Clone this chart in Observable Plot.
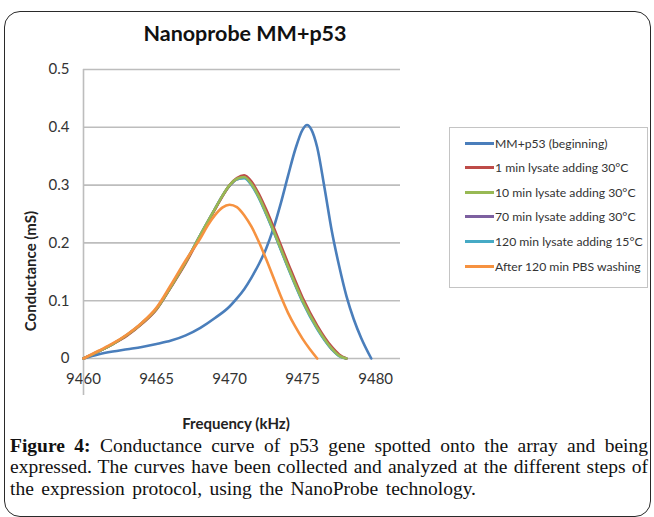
<!DOCTYPE html>
<html>
<head>
<meta charset="utf-8">
<script src="https://cdn.jsdelivr.net/npm/d3@7"></script>
<script src="https://cdn.jsdelivr.net/npm/@observablehq/plot@0.6"></script>
<style>
  html, body { margin: 0; padding: 0; background: #fff; }
  #wrap { position: relative; width: 654px; height: 517px; overflow: hidden; font-family: Lato, "Open Sans", sans-serif; }
  #frame { position: absolute; left: 4px; top: 11px; width: 647px; height: 506px; box-sizing: border-box;
           border: 1.5px solid #2a2a2a; border-radius: 16px; }
  #title { position: absolute; left: 45px; width: 400px; top: 21px; line-height: 24px; text-align: center;
           font-weight: 700; font-size: 21.5px; color: #111; }
  #chart { position: absolute; left: 0; top: 55px; }
  #xlabel { position: absolute; left: 136px; width: 200px; top: 414px; line-height: 18px; text-align: center;
            font-weight: 700; font-size: 15px; color: #222; }
  #ylabel { position: absolute; left: 30px; top: 271px; transform: translate(-50%, -50%) rotate(-90deg);
            white-space: nowrap; font-weight: 700; font-size: 15px; line-height: 18px; color: #222; }
  #legend { position: absolute; left: 449px; top: 127px; width: 199px; height: 161px; box-sizing: border-box;
            border: 1px solid #c4c4c4; background: #fff; }
  .lrow { position: absolute; left: 15px; height: 16px; display: flex; align-items: center; white-space: nowrap;
          font-size: 12.2px; color: #333; }
  .lsw { width: 29px; height: 3px; margin-right: 1px; }
  #caption { position: absolute; left: 10px; width: 638px; top: 435px; font-family: "Liberation Serif", "DejaVu Serif", serif;
             font-size: 19.5px; line-height: 21.4px; color: #111; }
  #caption div { white-space: nowrap; }
  #caption span.m { display: inline-block; white-space: nowrap; }
</style>
</head>
<body>
<div id="wrap">
  <div id="frame"></div>
  <div id="title">Nanoprobe MM+p53</div>
  <div id="chart"></div>
  <div id="ylabel">Conductance (mS)</div>
  <div id="xlabel">Frequency (kHz)</div>
  <div id="legend"></div>
  <div id="caption"></div>
</div>
<script>
// ---- data ----
const seriesNames = [
  "MM+p53 (beginning)",
  "1 min lysate adding 30°C",
  "10 min lysate adding 30°C",
  "70 min lysate adding 30°C",
  "120 min lysate adding 15°C",
  "After 120 min PBS washing"
];
const seriesColors = ["#4a7ebb", "#be4b48", "#98b954", "#7d60a0", "#46aac5", "#f69240"];

const freqBlue = [9460, 9461, 9462, 9463, 9464, 9465, 9466, 9467, 9468, 9469, 9470, 9470.5, 9471, 9471.5, 9472,
  9472.5, 9473, 9473.5, 9474, 9474.5, 9475, 9475.3, 9475.6, 9476, 9476.5, 9477, 9477.5, 9478, 9478.5, 9479, 9479.7];
const blueValues = [0, 0.007, 0.012, 0.016, 0.020, 0.025, 0.031, 0.040, 0.053, 0.070, 0.090, 0.104, 0.120, 0.140, 0.163,
  0.190, 0.225, 0.268, 0.316, 0.362, 0.396, 0.404, 0.396, 0.365, 0.295, 0.220, 0.160, 0.108, 0.068, 0.036, 0];

const freqCluster = [9460, 9461, 9462, 9463, 9464, 9465, 9466, 9467, 9468, 9469, 9469.5, 9470, 9470.5, 9471, 9471.5,
  9472, 9472.5, 9473, 9474, 9475, 9476, 9477, 9477.5, 9478];
const redValues = [0, 0.012, 0.025, 0.040, 0.060, 0.085, 0.124, 0.165, 0.212, 0.258, 0.280, 0.300, 0.312, 0.317, 0.306,
  0.285, 0.258, 0.228, 0.165, 0.105, 0.057, 0.020, 0.007, 0];
const greenValues = [0, 0.012, 0.025, 0.041, 0.061, 0.086, 0.125, 0.167, 0.214, 0.259, 0.281, 0.300, 0.311, 0.314, 0.302,
  0.280, 0.252, 0.222, 0.159, 0.100, 0.053, 0.017, 0.005, 0];
const purpleValues = [0, 0.012, 0.025, 0.041, 0.061, 0.086, 0.125, 0.167, 0.214, 0.259, 0.281, 0.299, 0.310, 0.313, 0.301,
  0.279, 0.251, 0.221, 0.158, 0.099, 0.052, 0.016, 0.005, 0];
const tealValues = [0, 0.012, 0.025, 0.041, 0.061, 0.086, 0.125, 0.167, 0.214, 0.259, 0.281, 0.299, 0.310, 0.312, 0.300,
  0.278, 0.250, 0.220, 0.157, 0.098, 0.051, 0.016, 0.004, 0];

const freqPbs = [9460, 9461, 9462, 9463, 9464, 9465, 9466, 9467, 9468, 9468.5, 9469, 9469.5, 9470, 9470.5, 9471, 9471.5,
  9472, 9472.5, 9473, 9473.5, 9474, 9474.5, 9475, 9475.5, 9476];
const pbsValues = [0, 0.013, 0.026, 0.042, 0.062, 0.088, 0.128, 0.170, 0.208, 0.230, 0.248, 0.261, 0.266, 0.262, 0.248,
  0.228, 0.202, 0.172, 0.140, 0.108, 0.079, 0.055, 0.034, 0.016, 0];

const xTicks = [9460, 9465, 9470, 9475, 9480];
const yTicks = [0, 0.1, 0.2, 0.3, 0.4, 0.5];
const yGrid = [0.1, 0.2, 0.3, 0.4, 0.5];

// ---- build table (drawing order: blue, purple, teal, red, green, orange) ----
const seriesData = [
  [freqBlue, blueValues], [freqCluster, redValues], [freqCluster, greenValues],
  [freqCluster, purpleValues], [freqCluster, tealValues], [freqPbs, pbsValues]
];
const drawOrder = [0, 3, 4, 1, 2, 5];
const rows = [];
drawOrder.forEach(i => {
  const [fs, vs] = seriesData[i];
  fs.forEach((f, j) => rows.push({series: seriesNames[i], f, g: vs[j]}));
});

const chart = Plot.plot({
  width: 420,
  height: 355,
  marginLeft: 83,
  marginRight: 20,
  marginTop: 14,
  marginBottom: 52,
  style: {fontFamily: "Lato, 'Open Sans', sans-serif", fontSize: "15px", color: "#333", background: "transparent", overflow: "visible"},
  x: {domain: [9460, 9481.7], ticks: xTicks, tickSize: 0, tickPadding: 15, label: null, tickFormat: d => String(d)},
  y: {domain: [0, 0.5], ticks: yTicks, tickSize: 0, tickPadding: 14, label: null,
      tickFormat: d => d === 0 ? "0" : d.toFixed(1)},
  color: {domain: seriesNames, range: seriesColors},
  marks: [
    Plot.ruleY(yGrid, {stroke: "#bdbdbd", strokeWidth: 1.6}),
    Plot.ruleY([0], {stroke: "#bdbdbd", strokeWidth: 1.6}),
    Plot.ruleX([9460], {y1: 0.5, y2: 0, insetBottom: -37, stroke: "#bdbdbd", strokeWidth: 1.6}),
    Plot.line(rows, {x: "f", y: "g", z: "series", stroke: "series", strokeWidth: 2.6, curve: "monotone-x"})
  ]
});
document.getElementById("chart").appendChild(chart);

// ---- legend ----
const legend = document.getElementById("legend");
seriesNames.forEach((name, i) => {
  const row = document.createElement("div");
  row.className = "lrow";
  row.style.top = (143 + 24.6 * i - 127 - 8 - 1) + "px";
  const sw = document.createElement("span");
  sw.className = "lsw";
  sw.style.background = seriesColors[i];
  const t = document.createElement("span");
  t.textContent = name;
  row.appendChild(sw);
  row.appendChild(t);
  legend.appendChild(row);
});

// ---- caption ----
const captionLines = [
  ["Figure 4:", " Conductance curve of p53 gene spotted onto the array and being"],
  [null, "expressed. The curves have been collected and analyzed at the different steps of"],
  [null, "the expression protocol, using the NanoProbe technology."]
];
const captionWidths = [638, 638, 466];
const cap = document.getElementById("caption");
captionLines.forEach(([bold, rest], i) => {
  const d = document.createElement("div");
  const m = document.createElement("span");
  m.className = "m";
  if (bold) { const b = document.createElement("b"); b.textContent = bold; m.appendChild(b); }
  m.appendChild(document.createTextNode(rest));
  d.appendChild(m);
  cap.appendChild(d);
  // fit line to the reference's line width via word spacing
  const natural = m.getBoundingClientRect().width;
  const text = (bold || "") + rest;
  const spaces = (text.match(/ /g) || []).length;
  if (spaces > 0) m.style.wordSpacing = ((captionWidths[i] - natural) / spaces) + "px";
});
</script>
</body>
</html>
